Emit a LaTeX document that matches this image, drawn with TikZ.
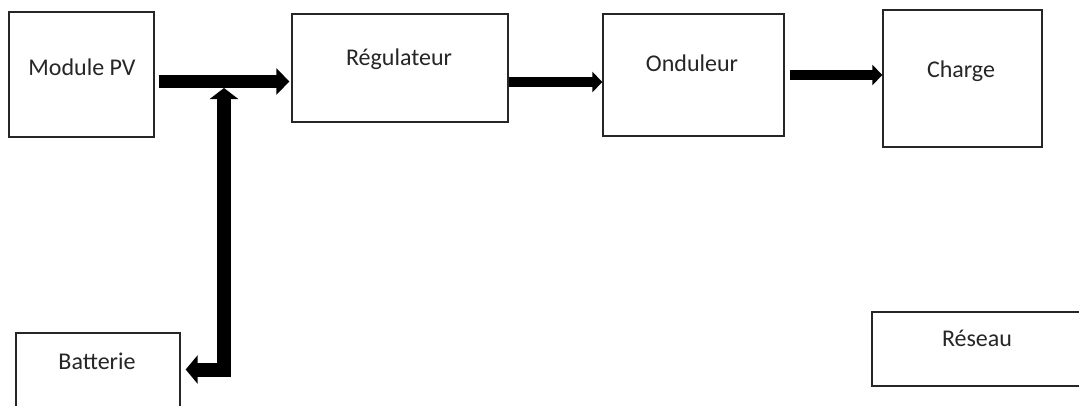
\documentclass[tikz,border=0pt]{standalone}
\usepackage{fontspec}
\setmainfont{Carlito}
\usetikzlibrary{arrows.meta}
\begin{document}
\begin{tikzpicture}[x=1pt,y=-1pt,
  box/.style={draw=black!85, line width=1.3pt, inner sep=0pt},
  lbl/.style={anchor=base, font=\fontsize{24}{28}\selectfont, text=black!85, inner sep=0pt},
  bigarrow/.style={line width=13pt, -{Triangle[length=13pt,width=26pt]}},
  medarrow/.style={line width=10pt, -{Triangle[length=10pt,width=20pt]}},
  batarrow/.style={line width=14pt, line join=miter,
    {Triangle[length=11pt,width=28pt]}-{Triangle[length=12pt,width=28pt]}}
]
\useasboundingbox (0,0) rectangle (1079,405);
\clip (0,0) rectangle (1079,405);
\fill[white] (0,0) rectangle (1079,405);

% boxes
\node[box, minimum width=145pt, minimum height=125pt] (pv)  at (81.5,74.5) {};
\node[box, minimum width=216pt, minimum height=108pt] (reg) at (400,68) {};
\node[box, minimum width=181pt, minimum height=122pt] (ond) at (693.5,75) {};
\node[box, minimum width=159pt, minimum height=137pt] (chg) at (962.5,78.5) {};
\node[box, minimum width=210pt, minimum height=74pt]  (res) at (977,349) {};
\node[box, minimum width=164pt, minimum height=77pt]  (bat) at (98,371.5) {};

% labels
\node[lbl] (pvt)  at (82,75)   {Module PV};
\node[lbl] (regt) at (399,65)  {Régulateur};
\node[lbl] (ondt) at (692,71)  {Onduleur};
\node[lbl] (chgt) at (961,77)  {Charge};
\node[lbl] (rest) at (977,346) {Réseau};
\node[lbl] (batt) at (97,369)  {Batterie};

% junction coordinates
\coordinate (j) at (224,81.5);
\coordinate (jb) at (224,369.5);

% connectors
\draw[bigarrow] ([xshift=4pt]pv.east |- j) -- ([xshift=-2pt]reg.west |- j);
\draw[medarrow] (reg.east |- 0,82) -- (ond.west |- 0,82);
\draw[medarrow] ([xshift=5pt]ond.east |- 0,75) -- (chg.west |- 0,75);
\draw[batarrow] ([yshift=-6.5pt]j) -- (jb) -- ([xshift=5pt]bat.east |- jb);
\end{tikzpicture}
\end{document}
